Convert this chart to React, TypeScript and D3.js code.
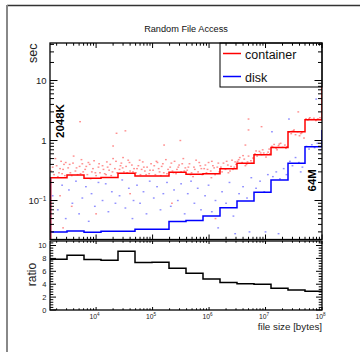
import * as d3 from "d3";
import { useRef, useEffect } from "react";

// x axis: 16 bins, each a factor 2 wide, ending at 1e8 bytes
const sizeMin = 1e8 / 65536;
const sizeMax = 1e8;
const nBins = 16;

// mean time per bin (sec)
const containerSec = [0.24, 0.266, 0.234, 0.243, 0.284, 0.256, 0.256, 0.295, 0.273, 0.278, 0.337, 0.419, 0.578, 0.764, 1.4, 2.22];
const diskSec = [0.0299, 0.031, 0.0296, 0.0306, 0.0306, 0.0331, 0.0331, 0.0447, 0.0465, 0.0552, 0.0759, 0.098, 0.137, 0.22, 0.417, 0.785];
const ratioValues = [7.88, 8.5, 7.82, 7.72, 9.12, 7.36, 7.41, 6.48, 5.7, 4.82, 4.25, 4.09, 3.99, 3.37, 3.11, 2.9];

// single measurements [file size in bytes, sec]
const containerPoints: [number, number][] = [
  [1.6e3, 0.31], [1.8e3, 0.27], [2.0e3, 0.38], [2.2e3, 0.29], [2.4e3, 0.45], [2.6e3, 0.33], [2.8e3, 0.26], [1.9e3, 0.5], [2.7e3, 0.4],
  [3.2e3, 0.35], [3.5e3, 0.29], [3.9e3, 0.42], [4.3e3, 0.31], [4.7e3, 0.27], [5.1e3, 0.37], [5.5e3, 0.48], [5.9e3, 0.3], [4.0e3, 0.55],
  [6.4e3, 0.33], [7.0e3, 0.27], [7.7e3, 0.4], [8.4e3, 0.3], [9.2e3, 0.46], [1.0e4, 0.26], [1.1e4, 0.36], [1.17e4, 0.29], [8.0e3, 0.23],
  [1.3e4, 0.38], [1.42e4, 0.28], [1.55e4, 0.44], [1.7e4, 0.32], [1.85e4, 0.26], [2.0e4, 0.5], [2.15e4, 0.34], [2.35e4, 0.29], [1.6e4, 0.36],
  [2.6e4, 0.33], [2.8e4, 0.42], [3.1e4, 0.3], [3.4e4, 0.37], [3.7e4, 0.47], [4.0e4, 0.31], [4.3e4, 0.39], [4.7e4, 0.34], [3.0e4, 0.52],
  [5.1e4, 0.29], [5.6e4, 0.38], [6.1e4, 0.27], [6.7e4, 0.44], [7.3e4, 0.31], [8.0e4, 0.36], [8.7e4, 0.28], [9.4e4, 0.41], [6.4e4, 0.33],
  [1.02e5, 0.32], [1.12e5, 0.27], [1.22e5, 0.43], [1.33e5, 0.3], [1.45e5, 0.37], [1.58e5, 0.29], [1.72e5, 0.48], [1.88e5, 0.33], [1.4e5, 0.26],
  [2.05e5, 0.36], [2.25e5, 0.31], [2.45e5, 0.45], [2.7e5, 0.33], [2.95e5, 0.39], [3.2e5, 0.3], [3.5e5, 0.5], [3.8e5, 0.35], [2.6e5, 0.28],
  [4.1e5, 0.32], [4.5e5, 0.41], [4.9e5, 0.29], [5.4e5, 0.36], [5.9e5, 0.47], [6.4e5, 0.3], [7.0e5, 0.38], [7.6e5, 0.27], [5.2e5, 0.25],
  [8.2e5, 0.34], [9.0e5, 0.29], [9.8e5, 0.43], [1.07e6, 0.31], [1.17e6, 0.38], [1.28e6, 0.27], [1.4e6, 0.36], [1.52e6, 0.3], [1.1e6, 0.24],
  [1.62e6, 0.36], [1.8e6, 0.42], [1.95e6, 0.33], [2.15e6, 0.39], [2.35e6, 0.31], [2.55e6, 0.47], [2.8e6, 0.36], [3.0e6, 0.4], [2.2e6, 0.29],
  [3.2e6, 0.45], [3.5e6, 0.52], [3.85e6, 0.43], [4.2e6, 0.49], [4.6e6, 0.4], [5.0e6, 0.55], [5.5e6, 0.46], [6.0e6, 0.51], [4.4e6, 0.38],
  [6.5e6, 0.6], [7.1e6, 0.55], [7.8e6, 0.66], [8.5e6, 0.58], [9.3e6, 0.62], [1.02e7, 0.53], [1.11e7, 0.64], [1.2e7, 0.6], [8.9e6, 0.7],
  [1.3e7, 0.8], [1.42e7, 0.86], [1.55e7, 0.74], [1.7e7, 0.82], [1.85e7, 0.9], [2.0e7, 0.77], [2.2e7, 0.84], [2.4e7, 0.79], [1.6e7, 0.7],
  [2.6e7, 1.38], [2.85e7, 1.3], [3.1e7, 1.45], [3.4e7, 1.25], [3.7e7, 1.4], [4.0e7, 1.2], [4.4e7, 1.35], [4.8e7, 1.1], [3.2e7, 1.5],
  [5.2e7, 2.3], [5.6e7, 2.2], [6.1e7, 2.4], [6.6e7, 2.25], [7.2e7, 2.35], [7.8e7, 2.15], [8.5e7, 2.3], [9.2e7, 2.4], [9.7e7, 2.2],
  // second pass of the same runs
  [1.7e3, 0.36], [2.1e3, 0.25], [2.3e3, 0.34], [2.5e3, 0.28], [2.9e3, 0.43],
  [3.4e3, 0.4], [3.7e3, 0.26], [4.5e3, 0.35], [5.3e3, 0.28], [5.7e3, 0.41],
  [6.7e3, 0.37], [7.3e3, 0.43], [8.8e3, 0.34], [9.7e3, 0.29], [1.13e4, 0.41],
  [1.35e4, 0.33], [1.5e4, 0.27], [1.78e4, 0.4], [1.95e4, 0.3], [2.25e4, 0.45],
  [2.7e4, 0.38], [2.95e4, 0.35], [3.55e4, 0.29], [3.9e4, 0.43], [4.5e4, 0.3],
  [5.3e4, 0.34], [5.9e4, 0.47], [7.0e4, 0.36], [7.7e4, 0.27], [9.0e4, 0.32],
  [1.07e5, 0.38], [1.17e5, 0.45], [1.28e5, 0.34], [1.52e5, 0.41], [1.8e5, 0.28],
  [2.15e5, 0.42], [2.35e5, 0.29], [2.85e5, 0.36], [3.35e5, 0.41], [3.65e5, 0.31],
  [4.3e5, 0.36], [4.7e5, 0.27], [5.6e5, 0.33], [6.7e5, 0.43], [7.3e5, 0.34],
  [8.6e5, 0.39], [9.4e5, 0.33], [1.12e6, 0.45], [1.23e6, 0.35], [1.46e6, 0.42],
  [1.7e6, 0.3], [2.05e6, 0.45], [2.45e6, 0.37], [2.65e6, 0.33], [2.9e6, 0.44],
  [3.35e6, 0.48], [4.0e6, 0.56], [4.8e6, 0.44], [5.7e6, 0.42],
  [6.8e6, 0.67], [8.2e6, 0.62], [1.06e7, 0.59], [1.16e7, 0.72],
  [1.37e7, 0.77], [1.75e7, 0.87], [2.3e7, 0.74], [2.9e7, 1.42], [4.2e7, 1.3], [5.9e7, 2.32], [8.2e7, 2.24],
  // outliers
  [5.2e3, 2.06], [2.3e4, 1.32], [3.3e4, 1.45], [2.0e4, 0.81], [1.6e5, 0.84], [3.1e5, 1.0], [4.4e6, 0.84], [5.0e6, 1.5],
  [8.5e6, 1.7], [3.8e7, 3.0], [5.0e6, 2.28], [2.3e3, 0.12], [3.7e3, 0.08], [1.0e4, 0.06], [4.0e4, 0.13], [2.2e5, 0.09],
  [1.3e6, 0.05], [2.6e3, 0.035],
];
const diskPoints: [number, number][] = [
  [1.7e3, 0.12], [2.1e3, 0.07], [2.5e3, 0.18], [2.9e3, 0.05],
  [3.3e3, 0.15], [3.8e3, 0.09], [4.4e3, 0.21], [5.0e3, 0.06], [5.7e3, 0.11],
  [6.6e3, 0.17], [7.4e3, 0.045], [8.3e3, 0.13], [9.5e3, 0.08], [1.1e4, 0.2],
  [1.3e4, 0.1], [1.48e4, 0.19], [1.65e4, 0.065], [1.9e4, 0.14], [2.2e4, 0.09],
  [2.6e4, 0.12], [2.9e4, 0.22], [3.3e4, 0.075], [3.8e4, 0.16], [4.4e4, 0.05], [4.6e4, 0.1],
  [5.3e4, 0.18], [6.0e4, 0.09], [6.9e4, 0.14], [7.8e4, 0.06], [8.9e4, 0.21],
  [1.05e5, 0.11], [1.2e5, 0.17], [1.38e5, 0.07], [1.55e5, 0.13], [1.8e5, 0.2],
  [2.1e5, 0.08], [2.4e5, 0.15], [2.8e5, 0.1], [3.2e5, 0.19], [3.7e5, 0.06],
  [4.2e5, 0.13], [4.8e5, 0.21], [5.5e5, 0.09], [6.3e5, 0.16], [7.2e5, 0.07],
  [8.5e5, 0.12], [9.8e5, 0.18], [1.12e6, 0.065], [1.3e6, 0.1], [1.45e6, 0.035],
  [1.7e6, 0.14], [2.0e6, 0.09], [2.3e6, 0.2], [2.7e6, 0.055], [2.9e6, 0.028],
  [3.4e6, 0.13], [4.0e6, 0.17], [4.7e6, 0.11], [5.6e6, 0.24], [5.2e6, 0.03],
  [6.8e6, 0.16], [8.0e6, 0.21], [9.5e6, 0.14], [1.1e7, 0.27], [1.0e7, 0.03],
  [1.35e7, 0.25], [1.55e7, 0.3], [1.8e7, 0.23], [2.1e7, 0.34], [2.35e7, 0.27], [1.7e7, 0.028],
  [2.7e7, 0.45], [3.0e7, 0.38], [3.4e7, 0.52], [3.9e7, 0.43], [4.5e7, 0.36], [4.2e7, 0.3],
  [5.3e7, 0.8], [5.9e7, 0.72], [6.6e7, 0.85], [7.4e7, 0.76], [8.3e7, 0.9], [9.3e7, 0.7],
  [7.9e7, 4.9], [2.6e7, 2.28], [1.3e7, 1.4],
];

// tick labels
const secTickValues = [0.1, 1, 10];
const secTickBase = ["10", "1", "10"];
const secTickExp = ["\u22121", "", ""];
const sizeTickExp = ["4", "5", "6", "7", "8"];
const ratioTickValues = [0, 2, 4, 6, 8, 10];

const legendItems = [
  { label: "container", color: "#ff0000" },
  { label: "disk", color: "#0000ff" },
];

export default function App() {
  const svgRef = useRef<SVGSVGElement | null>(null);

  useEffect(() => {
    if (!svgRef.current) return;
    const svg = d3.select(svgRef.current);
    svg.selectAll("*").remove();

    const font = "'Liberation Sans', Arial, Helvetica, sans-serif";
    const left = 50;
    const right = 322;
    const up = { y0: 43, y1: 239.5 };
    const lo = { y0: 241, y1: 310 };

    const x = d3.scaleLog().domain([sizeMin, sizeMax]).range([left, right]);
    const y = d3.scaleLog().domain([0.0224, 42.2]).range([up.y1, up.y0]);
    const yr = d3.scaleLinear().domain([0, 10.7]).range([lo.y1, lo.y0]);
    const edges = d3.range(nBins + 1).map((i) => sizeMin * 2 ** i);

    // canvas border
    svg.append("line").attr("x1", 7).attr("x2", 360).attr("y1", 5.5).attr("y2", 5.5)
      .attr("stroke", "#333").attr("stroke-width", 1.6);
    svg.append("line").attr("x1", 7).attr("x2", 7).attr("y1", 5).attr("y2", 352)
      .attr("stroke", "#888").attr("stroke-width", 2);

    // title
    svg.append("text")
      .attr("x", 186).attr("y", 31.7)
      .attr("text-anchor", "middle")
      .attr("font-family", font).attr("font-size", 9.2)
      .attr("fill", "#111")
      .text("Random File Access");

    svg.append("clipPath").attr("id", "clipUp")
      .append("rect").attr("x", left).attr("y", up.y0)
      .attr("width", right - left).attr("height", up.y1 - up.y0);

    const g = svg.append("g").attr("clip-path", "url(#clipUp)");

    // scattered measurements
    g.selectAll(".cpt").data(containerPoints).join("rect")
      .attr("x", (d) => x(d[0]) - 0.9).attr("y", (d) => y(d[1]) - 0.7)
      .attr("width", 1.8).attr("height", 1.4)
      .attr("fill", "#ff2020").attr("opacity", 0.5);
    g.selectAll(".dpt").data(diskPoints).join("rect")
      .attr("x", (d) => x(d[0]) - 0.9).attr("y", (d) => y(d[1]) - 0.7)
      .attr("width", 1.8).attr("height", 1.4)
      .attr("fill", "#2020ff").attr("opacity", 0.5);

    const stairs = (vals: number[], sy: (v: number) => number) => {
      let p = `M${x(edges[0])},${sy(vals[0])}`;
      vals.forEach((v, i) => {
        p += `V${sy(v)}H${x(edges[i + 1])}`;
      });
      return p;
    };

    // disk histogram
    g.append("path")
      .attr("d", stairs(diskSec, y) + `V${y(diskSec[nBins - 1] * 1.9)}`)
      .attr("fill", "none").attr("stroke", "#0000ff").attr("stroke-width", 1.5);
    // container histogram
    g.append("path")
      .attr("d", stairs(containerSec, y) + `V${up.y0}`)
      .attr("fill", "none").attr("stroke", "#ff0000").attr("stroke-width", 1.5);
    // left edge where both drop to the bottom
    g.append("line")
      .attr("x1", left + 0.5).attr("x2", left + 0.5)
      .attr("y1", y(containerSec[0])).attr("y2", up.y1)
      .attr("stroke", "#b8123e").attr("stroke-width", 2);

    // legend
    const legend = svg.append("g");
    legend.append("rect")
      .attr("x", 220).attr("y", up.y0).attr("width", right - 220).attr("height", 44)
      .attr("fill", "white").attr("stroke", "black").attr("stroke-width", 1);
    legendItems.forEach((it, i) => {
      const ly = 53.5 + i * 23;
      legend.append("line")
        .attr("x1", 223).attr("x2", 241).attr("y1", ly).attr("y2", ly)
        .attr("stroke", it.color).attr("stroke-width", 1.5);
      legend.append("text")
        .attr("x", 245).attr("y", ly + 5)
        .attr("font-family", font).attr("font-size", 12.5)
        .attr("fill", "#111")
        .text(it.label);
    });

    // annotations
    svg.append("text")
      .attr("transform", `translate(${left + 13.5},138) rotate(-90)`)
      .attr("font-family", font).attr("font-size", 11.5).attr("font-weight", "bold")
      .text("2048K");
    svg.append("text")
      .attr("transform", `translate(${right - 6},191.5) rotate(-90)`)
      .attr("font-family", font).attr("font-size", 11.5).attr("font-weight", "bold")
      .text("64M");

    // ratio pad
    svg.append("path")
      .attr("d", stairs(ratioValues, yr))
      .attr("fill", "none").attr("stroke", "black").attr("stroke-width", 1.5);

    // frames
    [up, lo].forEach((p) => {
      svg.append("rect")
        .attr("x", left).attr("y", p.y0)
        .attr("width", right - left).attr("height", p.y1 - p.y0)
        .attr("fill", "none").attr("stroke", "black").attr("stroke-width", 1.3);
    });

    const ticks = svg.append("g").attr("stroke", "black").attr("stroke-width", 1);
    const isPow10 = (t: number) => Math.abs(Math.log10(t) - Math.round(Math.log10(t))) < 1e-6;

    // x ticks on both pads
    x.ticks().forEach((t) => {
      const xx = x(t);
      const major = isPow10(t);
      const lu = major ? 5 : 2.7;
      const ll = major ? 3 : 1.7;
      ticks.append("line").attr("x1", xx).attr("x2", xx).attr("y1", up.y0).attr("y2", up.y0 + lu);
      ticks.append("line").attr("x1", xx).attr("x2", xx).attr("y1", up.y1).attr("y2", up.y1 - lu);
      ticks.append("line").attr("x1", xx).attr("x2", xx).attr("y1", lo.y0).attr("y2", lo.y0 + ll);
      ticks.append("line").attr("x1", xx).attr("x2", xx).attr("y1", lo.y1).attr("y2", lo.y1 - ll);
    });

    // y ticks upper pad
    y.ticks().forEach((t) => {
      const yy = y(t);
      const len = isPow10(t) ? 7.5 : 4;
      ticks.append("line").attr("x1", left).attr("x2", left + len).attr("y1", yy).attr("y2", yy);
      ticks.append("line").attr("x1", right).attr("x2", right - len).attr("y1", yy).attr("y2", yy);
    });

    // y ticks ratio pad
    d3.range(0, 27).forEach((k) => {
      const v = k * 0.4;
      if (v > 10.7) return;
      const yy = yr(v);
      const len = k % 5 === 0 ? 6 : 3.3;
      ticks.append("line").attr("x1", left).attr("x2", left + len).attr("y1", yy).attr("y2", yy);
      ticks.append("line").attr("x1", right).attr("x2", right - len).attr("y1", yy).attr("y2", yy);
    });

    // labels
    secTickValues.forEach((v, i) => {
      const t = svg.append("text")
        .attr("x", 46.5).attr("y", y(v) + 3.5)
        .attr("text-anchor", "end")
        .attr("font-family", font).attr("font-size", 9.5).attr("fill", "#222");
      t.append("tspan").text(secTickBase[i]);
      if (secTickExp[i]) {
        t.append("tspan").attr("dy", -3.5).attr("font-size", 6.5).text(secTickExp[i]);
      }
    });

    ratioTickValues.forEach((v) => {
      svg.append("text")
        .attr("x", 46.5).attr("y", yr(v) + 2.7)
        .attr("text-anchor", "end")
        .attr("font-family", font).attr("font-size", 7.5).attr("fill", "#222")
        .text(v);
    });

    sizeTickExp.forEach((e) => {
      const t = svg.append("text")
        .attr("x", x(10 ** +e) - 1.5).attr("y", 319.3)
        .attr("text-anchor", "middle")
        .attr("font-family", font).attr("font-size", 6.8).attr("fill", "#222");
      t.append("tspan").text("10");
      t.append("tspan").attr("dy", -3).attr("font-size", 4.6).text(e);
    });

    svg.append("text")
      .attr("transform", "translate(37,43.5) rotate(-90)")
      .attr("text-anchor", "end")
      .attr("font-family", font).attr("font-size", 12.5).attr("fill", "#222")
      .text("sec");
    svg.append("text")
      .attr("transform", `translate(36,${(lo.y0 + lo.y1) / 2 - 1}) rotate(-90)`)
      .attr("text-anchor", "middle")
      .attr("font-family", font).attr("font-size", 12).attr("fill", "#222")
      .text("ratio");
    svg.append("text")
      .attr("x", right).attr("y", 329.5)
      .attr("text-anchor", "end")
      .attr("font-family", font).attr("font-size", 9.8).attr("fill", "#222")
      .text("file size [bytes]");
  }, []);

  return (
    <svg
      ref={svgRef}
      width={360}
      height={352}
      style={{ position: "absolute", left: 0, top: 0, background: "white" }}
    ></svg>
  );
}
